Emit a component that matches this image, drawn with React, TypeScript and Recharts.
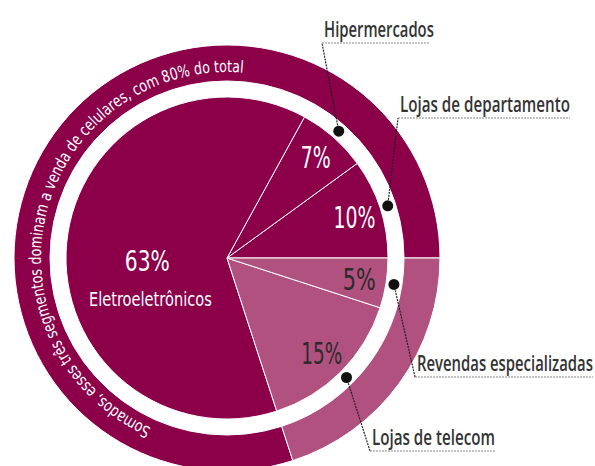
import { Cell, Pie, PieChart } from "recharts";

// inner pie: share of mobile phone sales by retail segment (%)
const segments = [
  "Lojas de departamento",
  "Hipermercados",
  "Eletroeletrônicos",
  "Lojas de telecom",
  "Revendas especializadas",
];
const shares = [10, 7, 63, 15, 5];

// outer ring: the three big segments vs the rest
const ringGroups = ["Três segmentos", "Demais"];
const ringShares = [80, 20];

const ringCaption =
  "Somados, esses três segmentos dominam a venda de celulares, com 80% do total";

const DARK = "#8b0049";
const LIGHT = "#b0517f";
const INK = "#2b2b2b";
const FONT = "'DejaVu Sans', sans-serif";
const LABEL_FONT = "'Open Sans', 'DejaVu Sans', sans-serif";

const CX = 227;
const CY = 258;
const R_PIE = 161;
const R_RING_IN = 177;
const R_RING_OUT = 213;
const R_DOT = 169;

const pieData = segments.map((name, i) => ({
  name,
  value: shares[i],
  light: i >= 3,
}));
const ringData = ringGroups.map((name, i) => ({ name, value: ringShares[i] }));

// callout underline start + length, and text widths (the source type is condensed)
const callouts: Record<string, { x: number; y: number; w: number; tw: number }> = {
  Hipermercados: { x: 322, y: 43, w: 108, tw: 110 },
  "Lojas de departamento": { x: 398, y: 118, w: 172, tw: 170 },
  "Revendas especializadas": { x: 415, y: 377, w: 178, tw: 176 },
  "Lojas de telecom": { x: 370, y: 451, w: 126, tw: 123 },
};
const pctWidth: Record<string, number> = {
  "Lojas de departamento": 42,
  Hipermercados: 30,
  "Eletroeletrônicos": 45,
  "Lojas de telecom": 41,
  "Revendas especializadas": 33,
};

const RAD = Math.PI / 180;

let ctx: CanvasRenderingContext2D | null = null;
function measure(s: string, font: string) {
  if (!ctx) ctx = document.createElement("canvas").getContext("2d");
  if (!ctx) return s.length * 10;
  ctx.font = font;
  return ctx.measureText(s).width;
}

// text squeezed horizontally to a given width, like the condensed face of the original
function Squeezed(props: {
  x: number;
  y: number;
  width: number;
  size: number;
  family: string;
  weight?: number;
  fill: string;
  anchor?: "start" | "middle";
  children: string;
}) {
  const { x, y, width, size, family, weight = 400, fill, anchor = "start", children } = props;
  const natural = measure(children, `${weight} ${size}px ${family}`);
  const sx = Math.min(1, width / natural);
  return (
    <text
      transform={`translate(${x},${y}) scale(${sx},1)`}
      fill={fill}
      fontFamily={family}
      fontSize={size}
      fontWeight={weight}
      textAnchor={anchor}
    >
      {children}
    </text>
  );
}

// caption set glyph by glyph along the ring, clockwise, tops outward
function RingCaption() {
  const r = 186;
  const size = 16.5;
  const font = `400 ${size}px ${FONT}`;
  const start = 246;
  const end = 85;
  const arc = ((start - end) * RAD) * r;
  const chars = Array.from(ringCaption);
  const widths = chars.map((ch) => measure(ch, font));
  const total = widths.reduce((a, b) => a + b, 0);
  const k = arc / total;
  let s = 0;
  return (
    <g>
      {chars.map((ch, i) => {
        const mid = (s + widths[i] / 2) * k;
        s += widths[i];
        if (ch === " ") return null;
        const th = start * RAD - mid / r;
        const x = CX + r * Math.cos(th);
        const y = CY - r * Math.sin(th);
        const rot = 90 - th / RAD;
        return (
          <text
            key={i}
            transform={`translate(${x},${y}) rotate(${rot}) scale(${k},1)`}
            fill="#fff"
            fontFamily={FONT}
            fontSize={size}
            textAnchor="middle"
          >
            {ch}
          </text>
        );
      })}
    </g>
  );
}

function SliceLabel(props: any) {
  const { cx, cy, midAngle, name, value, index } = props;
  const sin = Math.sin(-midAngle * RAD);
  const cos = Math.cos(-midAngle * RAD);

  if (index === 2) {
    const x = cx + 80 * cos;
    const y = cy + 80 * sin;
    return (
      <g>
        <Squeezed x={x} y={y + 21} width={pctWidth[name]} size={28} family={FONT} fill="#fff" anchor="middle">
          {`${value}%`}
        </Squeezed>
        <Squeezed x={x + 3} y={y + 56} width={123} size={19} family={FONT} fill="#fff" anchor="middle">
          {name}
        </Squeezed>
      </g>
    );
  }

  const lx = cx + 134 * cos;
  const ly = cy + 134 * sin;
  const dx = cx + R_DOT * cos;
  const dy = cy + R_DOT * sin;
  const c = callouts[name];
  return (
    <g>
      <Squeezed
        x={lx}
        y={ly + 11}
        width={pctWidth[name]}
        size={30}
        family={FONT}
        fill={index >= 3 ? INK : "#fff"}
        anchor="middle"
      >
        {`${value}%`}
      </Squeezed>
      <line x1={dx} y1={dy} x2={c.x} y2={c.y} stroke="#222" strokeWidth={1.2} strokeDasharray="2 1" />
      <line x1={c.x} y1={c.y} x2={c.x + c.w} y2={c.y} stroke="#888" strokeWidth={1.2} strokeDasharray="2 1" />
      <circle cx={dx} cy={dy} r={5.5} fill="#111" />
      <Squeezed x={c.x + 2} y={c.y - 6} width={c.tw} size={21} family={LABEL_FONT} weight={600} fill="#333">
        {name}
      </Squeezed>
      {index === 0 && <RingCaption />}
    </g>
  );
}

export default function App() {
  return (
    <div style={{ position: "absolute", left: 0, top: 0, background: "#fff" }}>
      <PieChart width={595} height={466} margin={{ top: 0, right: 0, bottom: 0, left: 0 }}>
        <Pie
          data={ringData}
          dataKey="value"
          nameKey="name"
          cx={CX}
          cy={CY}
          innerRadius={R_RING_IN}
          outerRadius={R_RING_OUT}
          startAngle={0}
          endAngle={360}
          stroke="#fff"
          strokeWidth={1}
          isAnimationActive={false}
        >
          {ringData.map((d, i) => (
            <Cell key={d.name} fill={i === 0 ? DARK : LIGHT} />
          ))}
        </Pie>
        <Pie
          data={pieData}
          dataKey="value"
          nameKey="name"
          cx={CX}
          cy={CY}
          outerRadius={R_PIE}
          startAngle={0}
          endAngle={360}
          stroke="#fff"
          strokeWidth={1}
          label={SliceLabel}
          labelLine={false}
          isAnimationActive={false}
        >
          {pieData.map((d) => (
            <Cell key={d.name} fill={d.light ? LIGHT : DARK} />
          ))}
        </Pie>
      </PieChart>
    </div>
  );
}
